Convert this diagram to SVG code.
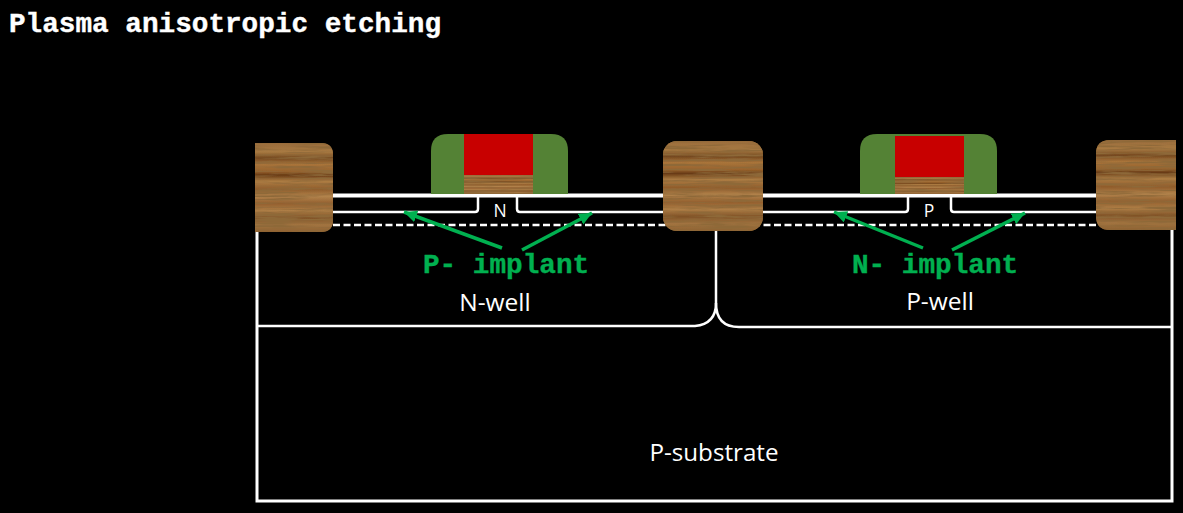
<svg xmlns="http://www.w3.org/2000/svg" width="1183" height="513" viewBox="0 0 1183 513">
<style>
.ln{fill:none;stroke:#fff;stroke-width:2.500}
.th{fill:none;stroke:#fff;stroke-width:4}
.ar{stroke:#00B050;stroke-width:3.500;fill:none;marker-end:url(#ah)}
.mono{font-family:"Liberation Mono",monospace;font-weight:bold;font-size:27.700px;stroke-width:.4px}
.ttl{fill:#fff;stroke:#fff}
.imp{fill:#00B050;stroke:#00B050}
.lb{font-family:"Open Sans","Noto Sans",sans-serif;fill:#fff;text-anchor:middle;font-size:24.500px}
.sub{font-size:24.200px}
.sm{font-size:17.500px}
.gr{fill:#548235}
.rd{fill:#C80000}
.wd{fill:url(#wood)}
</style>
<defs>
<marker id="ah" markerUnits="userSpaceOnUse" markerWidth="16" markerHeight="14" refX="13" refY="6" orient="auto"><path d="M0 0L13 6L0 12Z" fill="#00B050"/></marker>
<filter id="tex" x="0" y="0" width="1" height="1"><feTurbulence type="fractalNoise" baseFrequency="0.02 0.42" numOctaves="4" seed="11"/><feColorMatrix values="0 0 0 0 0.27  0 0 0 0 0.14  0 0 0 0 0.04  3.200 0 0 0 -1.250"/><feComposite in2="SourceGraphic" operator="atop"/><feMerge><feMergeNode in="SourceGraphic"/><feMergeNode/></feMerge></filter>
<linearGradient id="wood" x1="0" y1="0" x2="0" y2="1">
<stop offset="0" stop-color="#9a6c3c"/><stop offset=".1" stop-color="#a87a42"/><stop offset=".17" stop-color="#74481f"/><stop offset=".24" stop-color="#a9743a"/><stop offset=".32" stop-color="#98622c"/><stop offset=".36" stop-color="#683a14"/><stop offset=".43" stop-color="#ad7d44"/><stop offset=".52" stop-color="#905c2a"/><stop offset=".6" stop-color="#b2834c"/><stop offset=".68" stop-color="#945f2e"/><stop offset=".76" stop-color="#ae7e46"/><stop offset=".84" stop-color="#805226"/><stop offset=".92" stop-color="#a27440"/><stop offset="1" stop-color="#8e6232"/>
</linearGradient>
</defs>
<rect width="1183" height="513" fill="#000"/>
<g id="connectors">
<path class="ln" d="M257 232V501H1172V230" style="stroke-width:3"/>
<path class="ln" d="M257 326H695Q716 324 716 303V231"/>
<path class="ln" d="M716 303Q716 327 739 327H1172"/>
<path class="th" d="M333 195.500H1096"/>
<path class="ln" d="M333 212H475Q478 212 478 209V197M517 197V209Q517 212 520 212H663"/>
<path class="ln" d="M763 212H905Q908 212 908 209V197M951 197V209Q951 212 954 212H1096"/>
<path class="ln" d="M333 225H1096" stroke-dasharray="7 3.500"/>
<path class="ar" d="M502 248L404 212"/>
<path class="ar" d="M522 250L592 213"/>
<path class="ar" d="M923 248L834 212"/>
<path class="ar" d="M952 250L1025 213"/>
</g>
<g id="sti-left"><path class="wd" filter="url(#tex)" d="M255 143H321Q333 143 333 155V220Q333 232 321 232H255Z"/></g>
<g id="sti-mid"><rect class="wd" filter="url(#tex)" x="663" y="141" width="100" height="90" rx="14"/></g>
<g id="sti-right"><path class="wd" filter="url(#tex)" d="M1176 140H1110Q1096 140 1096 154V216Q1096 230 1110 230H1176Z"/></g>
<g id="gate-n">
<path class="gr" d="M431 194V151Q431 134 448 134H551Q568 134 568 151V194Z"/>
<rect class="rd" x="464" y="134" width="69" height="41"/>
<rect class="wd" filter="url(#tex)" x="464" y="175" width="69" height="19"/>
</g>
<g id="gate-p">
<path class="gr" d="M860 194V151Q860 134 877 134H980Q997 134 997 151V194Z"/>
<rect class="rd" x="895" y="136" width="69" height="41"/>
<rect class="wd" filter="url(#tex)" x="895" y="177" width="69" height="17"/>
</g>
<g id="labels">
<text class="mono ttl" x="9" y="32">Plasma anisotropic etching</text>
<text class="mono imp" x="423" y="273">P- implant</text>
<text class="mono imp" x="852" y="273">N- implant</text>
<text class="lb sm" x="500" y="217">N</text>
<text class="lb sm" x="929" y="217">P</text>
<text class="lb" x="495" y="311">N-well</text>
<text class="lb" x="940" y="310">P-well</text>
<text class="lb sub" x="714" y="461">P-substrate</text>
</g>
</svg>
